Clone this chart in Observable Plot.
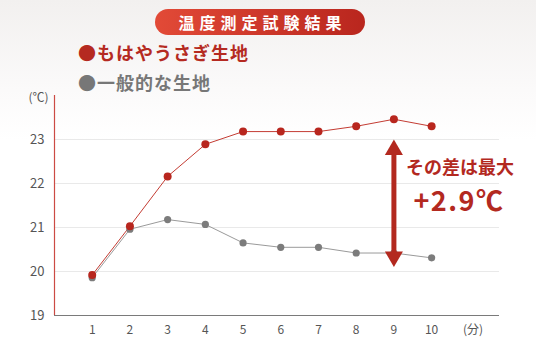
<!DOCTYPE html>
<html><head><meta charset="utf-8">
<script src="https://cdn.jsdelivr.net/npm/d3@7"></script>
<script src="https://cdn.jsdelivr.net/npm/@observablehq/plot@0.6"></script>
<style>
html,body{margin:0;padding:0;}
body{width:536px;height:349px;position:relative;overflow:hidden;background:linear-gradient(#f2f0ef 0px,#fbfafa 90px,#ffffff 140px);font-family:"Noto Sans CJK JP","Noto Sans",sans-serif;}
#chart{position:absolute;left:0;top:0;}
#title{position:absolute;left:155px;top:9px;width:210px;height:26px;border-radius:13px;background:linear-gradient(90deg,#e24a37,#b9261e);color:#fff;font-weight:700;font-size:16px;letter-spacing:5px;text-align:center;line-height:26px;text-indent:5px;}
.leg{position:absolute;left:78px;font-weight:700;font-size:18px;letter-spacing:1px;line-height:20px;}
.big text{letter-spacing:1.5px;}
</style></head>
<body>
<div id="chart"></div>
<div id="title">温度測定試験結果</div>
<div class="leg" style="top:42px;color:#b52a21">●もはやうさぎ生地</div>
<div class="leg" style="top:72px;color:#777777">●一般的な生地</div>
<script>
const minutes = [1,2,3,4,5,6,7,8,9,10];
const usagi = [19.92,21.03,22.16,22.89,23.18,23.18,23.18,23.30,23.46,23.30];
const normal = [19.86,20.96,21.18,21.07,20.65,20.55,20.55,20.42,20.42,20.31];
const yTicks = [19,20,21,22,23];
const gridTicks = [20,21,22,23];
const arrowX = 9, arrowTop = 23.0, arrowBottom = 20.1;
const noteLine1 = "その差は最大";
const noteLine2 = "+2.9℃";

const red = minutes.map((m,i)=>({m, v: usagi[i]}));
const gray = minutes.map((m,i)=>({m, v: normal[i]}));
const noteColor = "#b3291f";

const plot = Plot.plot({
  width: 536, height: 349,
  marginLeft: 54, marginRight: 37, marginTop: 95, marginBottom: 34,
  style: {background: "transparent", fontFamily: "'Noto Sans CJK JP','Noto Sans',sans-serif"},
  x: {domain: [0, 11.8], axis: null},
  y: {domain: [19, 24], axis: null},
  marks: [
    Plot.ruleY(gridTicks, {x1: 0, x2: 11.8, stroke: "#e9e9e9", strokeWidth: 1}),
    Plot.ruleY([19], {x1: 0, x2: 11.8, stroke: "#7a7a7a", strokeWidth: 1.2}),
    Plot.ruleX([0], {y1: 19, y2: 24, stroke: "#cc4a44", strokeWidth: 1.2}),
    Plot.text(yTicks, {x: 0, y: d=>d, text: d=>String(d), dx: -10, textAnchor: "end", fontSize: 13, fill: "#555"}),
    Plot.text(["(℃)"], {x: 0, y: 24, text: d=>d, dx: -6, dy: 3, textAnchor: "end", fontSize: 12, fill: "#555"}),
    Plot.text(minutes, {x: d=>d, y: 19, text: d=>String(d), dy: 15, fontSize: 12, fill: "#555"}),
    Plot.text(["(分)"], {x: 11.1, y: 19, text: d=>d, dy: 15, fontSize: 12, fill: "#555"}),
    Plot.line(gray, {x: "m", y: "v", stroke: "#9a9a9a", strokeWidth: 1}),
    Plot.line(red, {x: "m", y: "v", stroke: "#c43c33", strokeWidth: 1}),
    Plot.dot(gray, {x: "m", y: "v", r: 3.6, fill: "#7c7c7c"}),
    Plot.dot(red, {x: "m", y: "v", r: 4, fill: "#b8261e"}),
    Plot.ruleX([arrowX], {y1: arrowTop, y2: arrowBottom, insetTop: 12, insetBottom: 12, stroke: noteColor, strokeWidth: 5}),
    Plot.dot([arrowX], {x: d=>d, y: arrowTop, symbol: "triangle", r: 6.7, dy: 10.4, fill: noteColor}),
    Plot.dot([arrowX], {x: d=>d, y: arrowBottom, symbol: "triangle", r: 6.7, dy: -10.4, rotate: 180, fill: noteColor}),
    Plot.text([noteLine1], {x: arrowX, y: 22.34, text: d=>d, dx: 66, fontSize: 18, fontWeight: 700, fill: noteColor}),
    Plot.text([noteLine2], {x: arrowX, y: 21.57, text: d=>d, dx: 65, fontSize: 27, fontWeight: 700, fill: noteColor, className: "big"})
  ]
});
document.getElementById("chart").appendChild(plot);
</script>
</body></html>
